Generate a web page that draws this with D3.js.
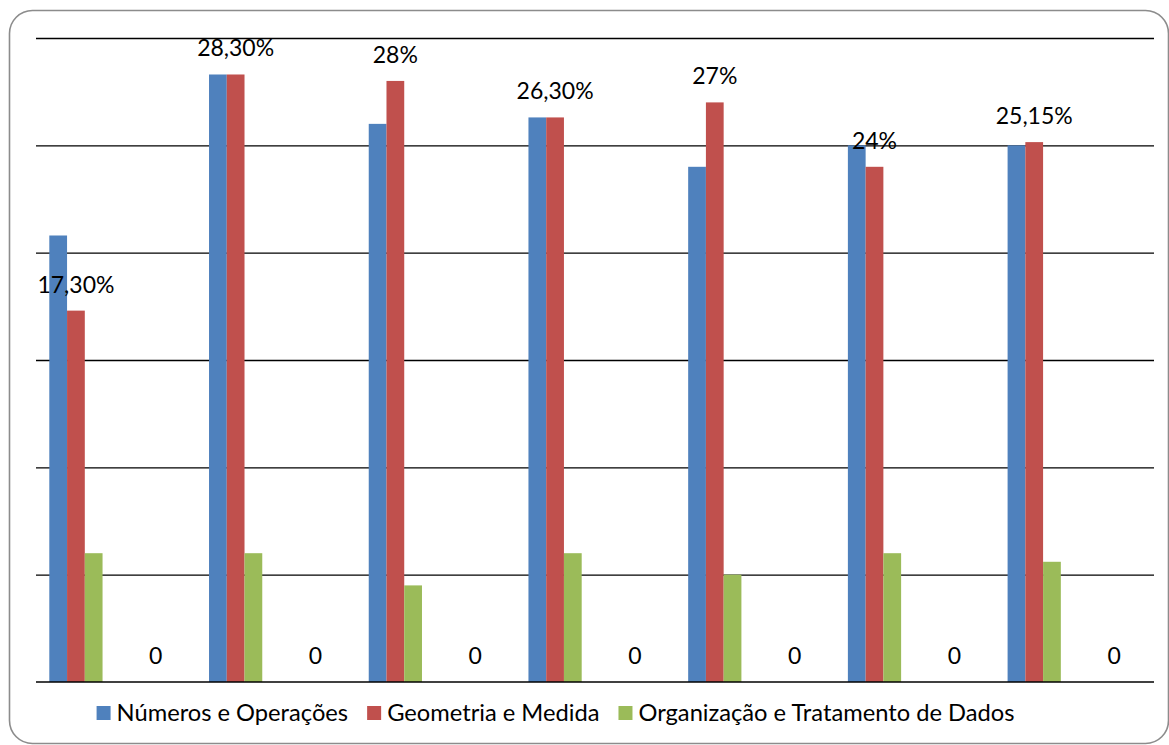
<!DOCTYPE html>
<html lang="pt">
<head>
<meta charset="UTF-8">
<title>Gráfico</title>
<script src="https://cdn.jsdelivr.net/npm/d3@7"></script>
<style>
  html, body { margin: 0; padding: 0; background: #fff; }
  svg { display: block; font-family: Lato, "Open Sans", sans-serif; }
</style>
</head>
<body>
<div id="chart"></div>
<script>
// 14 categories: every second one is an empty slot (only the "0" label of the red series shows)
const categories = ["c1", "c1b", "c2", "c2b", "c3", "c3b", "c4", "c4b", "c5", "c5b", "c6", "c6b", "c7", "c7b"];
const seriesNames = ["Números e Operações", "Geometria e Medida", "Organização e Tratamento de Dados"];
const numeros = [20.8, null, 28.3, null, 26.0, null, 26.3, null, 24.0, null, 25.0, null, 25.0, null];
const geometria = [17.3, 0, 28.3, 0, 28, 0, 26.3, 0, 27, 0, 24, 0, 25.15, 0];
const organizacao = [6, null, 6, null, 4.5, null, 6, null, 5, null, 6, null, 5.6, null];
const geoLabels = ["17,30%", "0", "28,30%", "0", "28%", "0", "26,30%", "0", "27%", "0", "24%", "0", "25,15%", "0"];
const colors = ["#4F81BD", "#C0504D", "#9BBB59"];

const w = 1169, h = 745;
const padL = 36, padR = 1154, padT = 38, padB = 682;

const svg = d3.select('#chart').append('svg')
  .attr('width', w)
  .attr('height', h);

// outer rounded frame
svg.append('rect')
  .attr('x', 9.5).attr('y', 10.5)
  .attr('width', 1159).attr('height', 733)
  .attr('rx', 23).attr('ry', 23)
  .attr('fill', '#fff')
  .attr('stroke', '#8c8c8c')
  .attr('stroke-width', 1.6);

const x0 = d3.scaleBand().domain(categories).range([padL, padR]).padding(0);
const x1 = d3.scaleBand().domain(d3.range(seriesNames.length))
  .range([0, x0.bandwidth()]).paddingInner(0).paddingOuter(0.75);
const y = d3.scaleLinear().domain([0, 30]).range([padB, padT]);

// gridlines (no tick labels)
const grid = svg.append('g')
  .attr('transform', 'translate(' + padL + ',0)')
  .call(d3.axisLeft(y).tickValues(d3.range(5, 31, 5)).tickSize(-(padR - padL)).tickFormat(''));
grid.select('.domain').remove();
grid.selectAll('line').attr('stroke', '#000').attr('stroke-width', 1.4);

const allSeries = [numeros, geometria, organizacao];
const rows = [];
allSeries.forEach((vals, s) => {
  vals.forEach((v, i) => {
    if (v != null && v > 0) rows.push({ cat: categories[i], s: s, v: v });
  });
});

svg.append('g').selectAll('rect')
  .data(rows)
  .enter()
  .append('rect')
  .attr('x', d => x0(d.cat) + x1(d.s))
  .attr('y', d => y(d.v))
  .attr('width', x1.bandwidth())
  .attr('height', d => y(0) - y(d.v))
  .attr('fill', d => colors[d.s]);

// baseline
svg.append('line')
  .attr('x1', padL).attr('x2', padR)
  .attr('y1', y(0)).attr('y2', y(0))
  .attr('stroke', '#000').attr('stroke-width', 1.4);

// data labels on the Geometria series
svg.append('g').selectAll('text')
  .data(geometria)
  .enter()
  .append('text')
  .attr('x', (d, i) => x0(categories[i]) + x1(1) + x1.bandwidth() / 2)
  .attr('y', d => y(d) - 18)
  .attr('text-anchor', 'middle')
  .attr('font-size', 23)
  .attr('fill', '#000')
  .text((d, i) => geoLabels[i]);

// legend
const legend = svg.append('g');
let lx = 0;
seriesNames.forEach((name, i) => {
  const item = legend.append('g').attr('transform', 'translate(' + lx + ',0)');
  item.append('rect')
    .attr('x', 0).attr('y', 706)
    .attr('width', 14).attr('height', 14)
    .attr('fill', colors[i]);
  const t = item.append('text')
    .attr('x', 20).attr('y', 721)
    .attr('font-size', 23.7)
    .attr('fill', '#000')
    .text(name);
  lx += 20 + t.node().getComputedTextLength() + 19;
});
const legendWidth = lx - 19;
legend.attr('transform', 'translate(' + (555.5 - legendWidth / 2) + ',0)');
</script>
</body>
</html>
